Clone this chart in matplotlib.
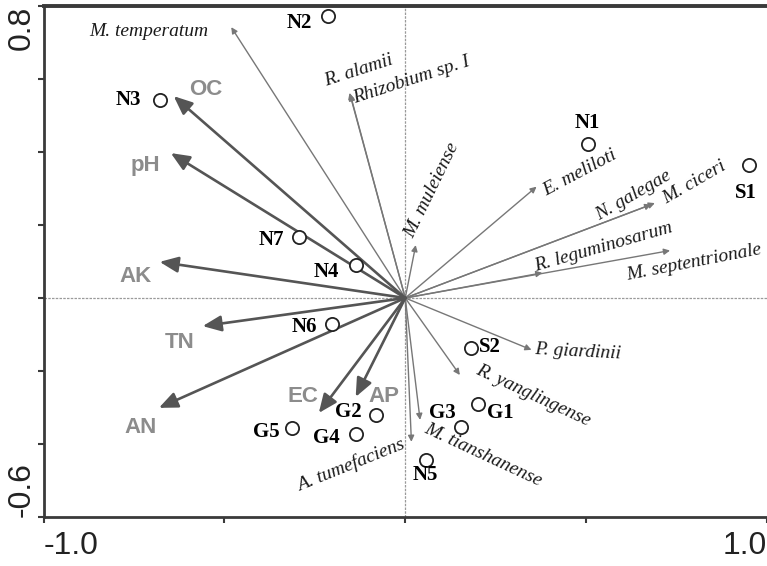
import matplotlib.pyplot as plt

# environmental variables (RDA biplot arrows)
env_names = ["OC", "pH", "AK", "TN", "AN", "EC", "AP"]
env_x = [-0.640, -0.648, -0.679, -0.560, -0.681, -0.239, -0.137]
env_y = [0.553, 0.397, 0.099, -0.077, -0.301, -0.315, -0.271]

# species arrows
species = ["M. temperatum", "R. alamii", "Rhizobium sp. I", "M. muleiense",
           "E. meliloti", "N. galegae", "M. ciceri", "R. leguminosarum",
           "M. septentrionale", "P. giardinii", "R. yanglingense",
           "M. tianshanense", "A. tumefaciens"]
sp_x = [-0.481, -0.152, -0.154, 0.029, 0.363, 0.680, 0.690, 0.379,
        0.732, 0.349, 0.151, 0.041, 0.017]
sp_y = [0.742, 0.558, 0.562, 0.145, 0.305, 0.256, 0.260, 0.069,
        0.130, -0.142, -0.211, -0.334, -0.394]

# sampling sites
sites = ["N1", "N2", "N3", "N4", "N5", "N6", "N7",
         "S1", "S2", "G1", "G2", "G3", "G4", "G5"]
site_x = [0.506, -0.214, -0.679, -0.135, 0.058, -0.203, -0.294,
          0.951, 0.181, 0.201, -0.080, 0.154, -0.135, -0.313]
site_y = [0.422, 0.773, 0.542, 0.090, -0.444, -0.071, 0.167,
          0.364, -0.137, -0.290, -0.320, -0.353, -0.373, -0.356]

xticks = [-1.0, -0.5, 0.0, 0.5, 1.0]
xticklabels = ["-1.0", "", "", "", "1.0"]
yticks = [-0.6, -0.4, -0.2, 0.0, 0.2, 0.4, 0.6, 0.8]
yticklabels = ["-0.6", "", "", "", "", "", "", "0.8"]

# label placement (layout only)
env_lab = [(-0.552, 0.570), (-0.717, 0.364), (-0.745, 0.058), (-0.624, -0.123),
           (-0.731, -0.356), (-0.283, -0.271), (-0.058, -0.271)]
sp_lab = [(-0.709, 0.729, 0), (-0.129, 0.622, 18), (0.016, 0.597, 18),
          (0.074, 0.296, 64), (0.484, 0.342, 28), (0.632, 0.282, 30),
          (0.800, 0.315, 30), (0.549, 0.140, 16), (0.797, 0.096, 11),
          (0.476, -0.148, -3), (0.352, -0.266, -25), (0.214, -0.430, -25),
          (-0.151, -0.458, 22)]
site_lab = [(0.503, 0.479), (-0.294, 0.753), (-0.766, 0.542), (-0.217, 0.071),
            (0.055, -0.485), (-0.280, -0.079), (-0.371, 0.159),
            (0.942, 0.288), (0.234, -0.134), (0.264, -0.315), (-0.157, -0.312),
            (0.104, -0.315), (-0.217, -0.384), (-0.385, -0.367)]

W, H = 767, 566
fig = plt.figure(figsize=(W / 100, H / 100), dpi=100)
left, bottom, top = 43.5, 517, 6
ax = fig.add_axes([left / W, (H - bottom) / H, (W - left) / W, (bottom - top) / H])
ax.set_xlim(-1.0, 1.0)
ax.set_ylim(-0.6, 0.8)

ax.axhline(0, color="#9a9a9a", lw=0.9, ls=(0, (2, 1)), zorder=1)
ax.axvline(0, color="#9a9a9a", lw=0.9, ls=(0, (2, 1)), zorder=1)

for x, y in zip(sp_x, sp_y):
    ax.annotate("", xy=(x, y), xytext=(0, 0),
                arrowprops=dict(arrowstyle="-|>", color="#777777", lw=1.0,
                                mutation_scale=9, shrinkA=0, shrinkB=0),
                zorder=2)
for name, (lx, ly, rot) in zip(species, sp_lab):
    ax.text(lx, ly, name, family="Liberation Serif", style="italic",
            fontsize=14, color="#1a1a1a", rotation=rot,
            rotation_mode="anchor", ha="center", va="center", zorder=4)

for x, y in zip(env_x, env_y):
    ax.annotate("", xy=(x, y), xytext=(0, 0),
                arrowprops=dict(arrowstyle="-|>,head_length=0.7,head_width=0.3",
                                color="#555555", lw=1.9,
                                mutation_scale=16, shrinkA=0, shrinkB=0),
                zorder=3)
for name, (lx, ly) in zip(env_names, env_lab):
    ax.text(lx, ly, name, family="Liberation Sans", fontweight="bold",
            fontsize=16, color="#8c8c8c", ha="center", va="center", zorder=4)

ax.plot(site_x, site_y, "o", ms=9.5, mfc="white", mec="#222222", mew=1.3,
        ls="none", zorder=5)
for name, (lx, ly) in zip(sites, site_lab):
    ax.text(lx, ly, name, family="Liberation Serif", fontweight="bold",
            fontsize=15, color="black", ha="center", va="center", zorder=6)

for side in ["left", "bottom", "top"]:
    ax.spines[side].set_color("#3a3a3a")
    ax.spines[side].set_linewidth(2.0)
ax.spines["top"].set_linewidth(2.8)
ax.spines["right"].set_visible(False)

ax.set_xticks(xticks)
ax.set_xticklabels(xticklabels, family="Liberation Sans", fontsize=23, color="#222222")
ax.set_yticks(yticks)
ax.set_yticklabels(yticklabels, family="Liberation Sans", fontsize=23,
                   color="#222222", rotation=90)
ax.tick_params(axis="both", direction="out", length=4, width=1.5, color="#3a3a3a")
ax.tick_params(axis="x", pad=6)
ax.tick_params(axis="y", pad=1)

xl = ax.get_xticklabels()
xl[0].set_ha("left")
xl[-1].set_ha("right")
yl = ax.get_yticklabels()
yl[0].set_va("bottom")
yl[-1].set_va("top")

fig.savefig("out.png", dpi=100)
